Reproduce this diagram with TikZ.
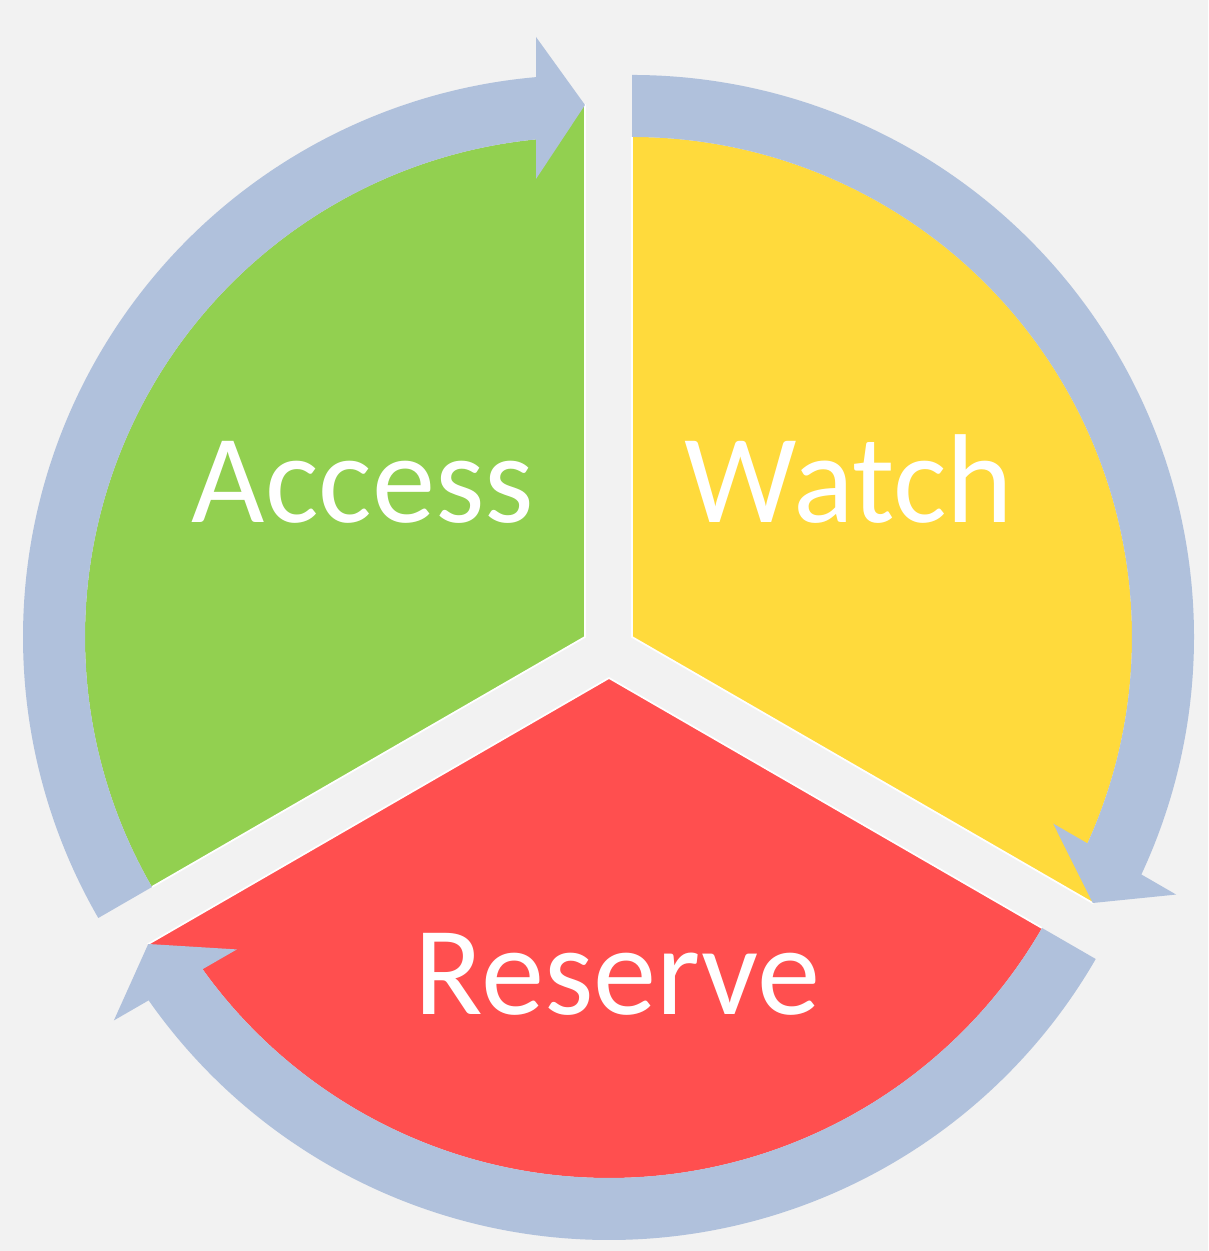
\documentclass[tikz,border=0pt]{standalone}
\usepackage{fontspec}
\setmainfont{Carlito}
\definecolor{bggray}{RGB}{242,242,242}
\definecolor{cyclearrow}{RGB}{176,193,220}
\definecolor{accessgreen}{RGB}{146,208,80}
\definecolor{watchyellow}{RGB}{255,218,60}
\definecolor{reservered}{RGB}{255,79,79}
\tikzset{
  phase/.style={text=white, font=\fontsize{36}{40}\selectfont, anchor=base},
  edge/.style={white, line width=0.5pt}
}

\begin{document}
\begin{tikzpicture}
  \fill[bggray] (0,0) rectangle (12.08,12.51);
  \useasboundingbox (0,0) rectangle (12.08,12.51);
  % sectors, then the arrows round them
  \foreach \cx/\cy/\a/\b/\col in {5.85/6.14/210/90/accessgreen, 6.32/6.14/90/-30/watchyellow, 6.09/5.73/-30/-150/reservered} {
    \pgfmathsetmacro\h{\b+5.3}
    \begin{scope}[shift={(\cx,\cy)}]
      \fill[\col] (0,0) -- (\a:5) arc[start angle=\a, end angle=\h, radius=5] -- (\b:5.33) -- cycle;
      \draw[edge] (\a:5) -- (0,0) -- (\b:5.33);
    \end{scope}
  }
  \foreach \cx/\cy/\a/\b in {5.85/6.14/210/90, 6.32/6.14/90/-30, 6.09/5.73/-30/-150} {
    \pgfmathsetmacro\ho{\b+asin(0.49/5.62)}
    \pgfmathsetmacro\hi{\b+asin(0.49/5)}
    \pgfmathsetmacro\t{\b+90}
    \begin{scope}[shift={(\cx,\cy)}]
      \fill[cyclearrow] (\a:5.62) arc[start angle=\a, end angle=\ho, radius=5.62]
        -- ([shift={(\t:0.49)}]\b:6.0) -- (\b:5.32) -- ([shift={(\t:0.49)}]\b:4.58)
        -- (\hi:5) arc[start angle=\hi, end angle=\a, radius=5] -- cycle;
    \end{scope}
  }
  % labels
  \node[phase] (access) at (3.63,7.28) {Access};
  \node[phase] (watch) at (8.49,7.28) {Watch};
  \node[phase] (reserve) at (6.175,2.36) {Reserve};
\end{tikzpicture}
\end{document}
